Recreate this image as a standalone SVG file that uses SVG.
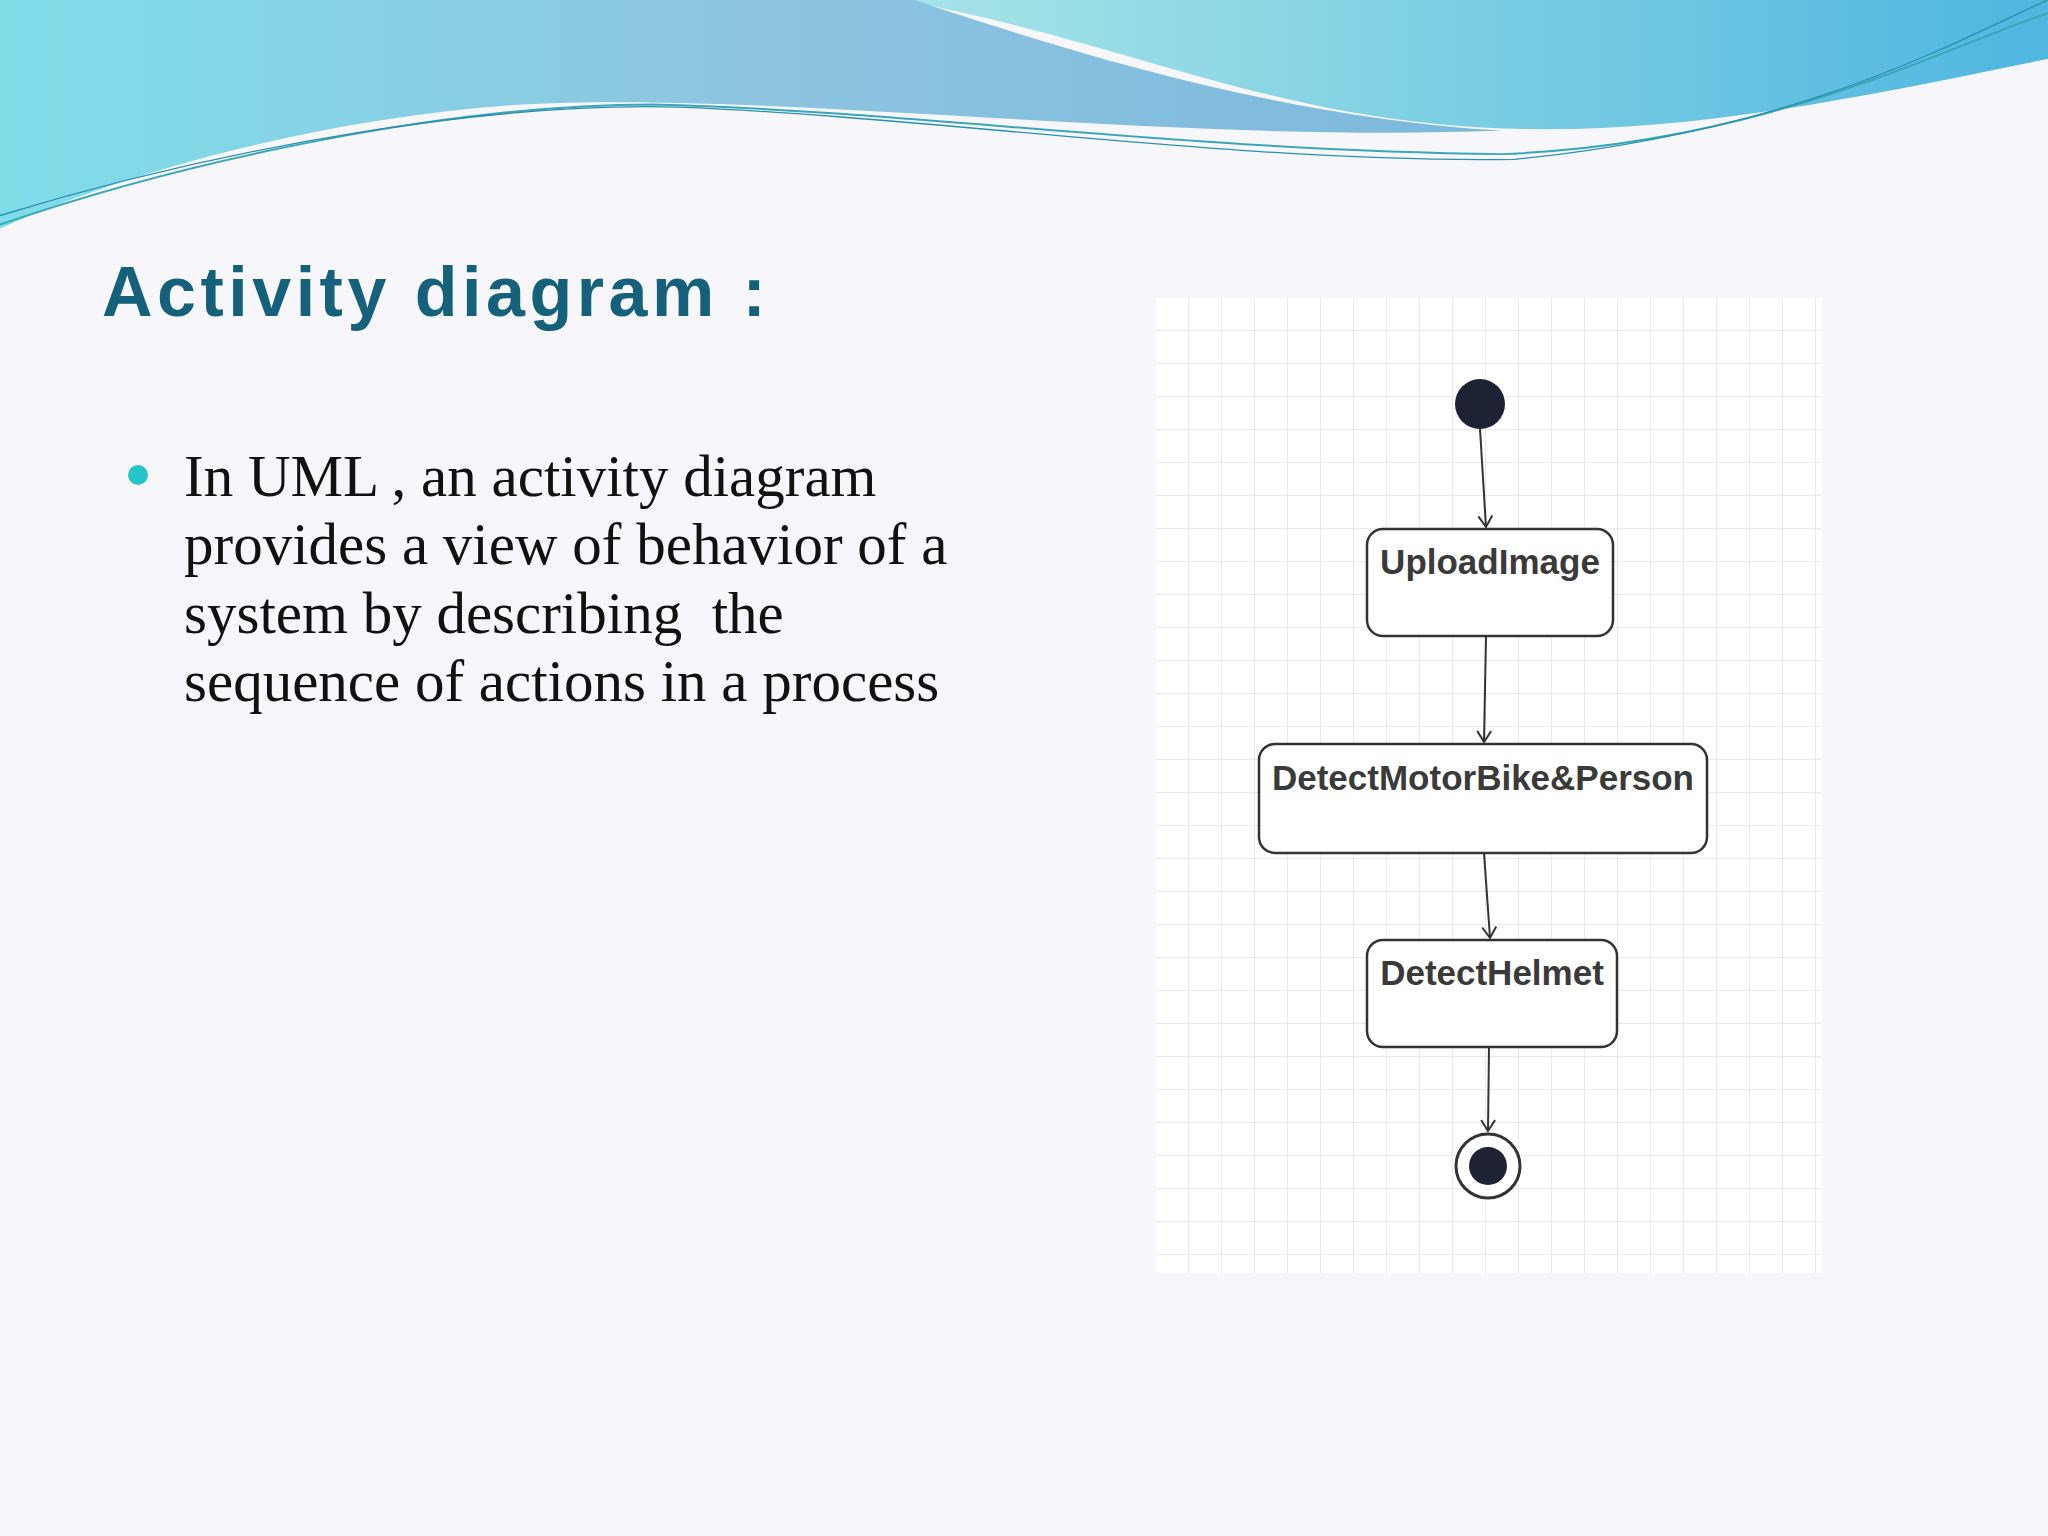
<svg xmlns="http://www.w3.org/2000/svg" width="2048" height="1536" viewBox="0 0 2048 1536">
<defs>
<linearGradient id="g1" x1="0" y1="0" x2="1" y2="0"><stop offset="0" stop-color="#7fdde8"/><stop offset="0.5" stop-color="#8ec5e0"/><stop offset="1" stop-color="#7bb8dc"/></linearGradient>
<linearGradient id="g2" x1="0" y1="0" x2="1" y2="0"><stop offset="0" stop-color="#d8f2f4"/><stop offset="0.5" stop-color="#9ee0e6"/><stop offset="1" stop-color="#4fb6e0"/></linearGradient>
<pattern id="grid" width="33" height="33" patternUnits="userSpaceOnUse" x="1156" y="298"><path d="M33 0V33M0 33H33" fill="none" stroke="#e2e4ea" stroke-width="1.5"/></pattern>
<marker id="arr" markerWidth="16" markerHeight="16" refX="12" refY="8" orient="auto" markerUnits="userSpaceOnUse"><path d="M1 1L12 8L1 15" fill="none" stroke="#333" stroke-width="2"/></marker>
</defs>
<style>
.box{fill:#fff;stroke:#333;stroke-width:2.5}
.lbl{font-family:"Liberation Sans",Arial,sans-serif;font-size:35px;font-weight:bold;fill:#3a3a3a;text-anchor:middle}
.body{font-family:"Liberation Serif","DejaVu Serif",serif;font-size:59px;fill:#111}
.c{stroke:#333;stroke-width:2;fill:none;marker-end:url(#arr)}
</style>
<rect width="2048" height="1536" fill="#f7f7fb"/>
<g transform="scale(1.3061)">
<path d="M0,0 H1568 V45 C1400,80 1250,110 1100,95 C950,80 850,30 690,0 Z" fill="url(#g2)"/>
<path d="M0,0 H700 C820,40 980,90 1150,100 C900,110 600,70 400,80 C250,90 100,130 0,175 Z" fill="url(#g1)"/>
<path d="M0,172 C150,120 350,80 500,80 C700,85 900,115 1150,118 C1350,110 1480,40 1568,10" fill="none" stroke="#3aa6b9" stroke-width="1.5"/>
<path d="M0,165 C180,110 380,78 520,82 C720,90 950,125 1160,122 C1380,100 1500,30 1568,0" fill="none" stroke="#2b8fb0" stroke-width="1"/>
</g>
<text x="102" y="316" font-family="'Liberation Sans',Arial,sans-serif" font-weight="bold" font-size="70" fill="#15607a" letter-spacing="4.5">Activity diagram :</text>
<circle cx="138" cy="475" r="10" fill="#27c4cc"/>
<text class="body" x="184" y="496">In UML , an activity diagram</text>
<text class="body" x="184" y="564">provides a view of behavior of a</text>
<text class="body" x="184" y="633" xml:space="preserve">system by describing  the</text>
<text class="body" x="184" y="701">sequence of actions in a process</text>
<rect x="1156" y="298" width="666" height="975" fill="#fff"/>
<rect x="1156" y="298" width="666" height="975" fill="url(#grid)"/>
<g id="connectors">
<path class="c" d="M1480,429 L1486,527"/>
<path class="c" d="M1486,636 L1484,742"/>
<path class="c" d="M1484,853 L1490,938"/>
<path class="c" d="M1489,1047 L1488,1131"/>
</g>
<g id="start"><circle cx="1480" cy="404" r="25" fill="#1e2235"/></g>
<g id="upload"><rect class="box" x="1367" y="529" width="246" height="107" rx="16"/><text class="lbl" x="1490" y="574">UploadImage</text></g>
<g id="detect"><rect class="box" x="1259" y="744" width="448" height="109" rx="16"/><text class="lbl" x="1483" y="790">DetectMotorBike&amp;Person</text></g>
<g id="helmet"><rect class="box" x="1367" y="940" width="250" height="107" rx="16"/><text class="lbl" x="1492" y="985">DetectHelmet</text></g>
<g id="end"><circle cx="1488" cy="1166" r="32" fill="#fff" stroke="#333" stroke-width="3"/><circle cx="1488" cy="1166" r="19" fill="#1e2235"/></g>
</svg>
